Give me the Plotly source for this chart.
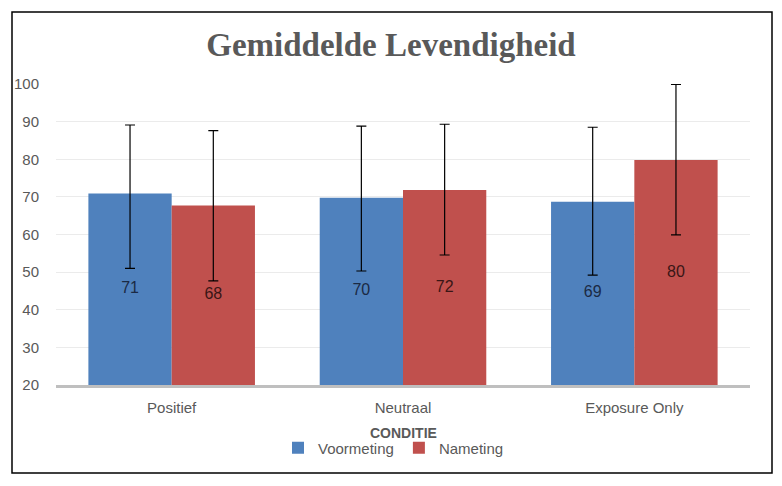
import plotly.graph_objects as go

categories = ["Positief", "Neutraal", "Exposure Only"]
voormeting = [70.9, 69.8, 68.7]
nameting = [67.7, 71.8, 79.8]
voormeting_err_plus = [18.2, 19.0, 19.8]
voormeting_err_minus = [19.9, 19.5, 19.5]
nameting_err_plus = [19.9, 17.5, 20.1]
nameting_err_minus = [20.0, 17.25, 19.9]
y_ticks = [20, 30, 40, 50, 60, 70, 80, 90, 100]
y_min, y_max = 20, 100

BLUE = "#4F81BD"
RED = "#C0504D"
FONT = "Liberation Sans"

fig = go.Figure()
series = [
    ("Voormeting", voormeting, voormeting_err_plus, voormeting_err_minus, BLUE, "#1B2A44"),
    ("Nameting", nameting, nameting_err_plus, nameting_err_minus, RED, "#3A1616"),
]
for name, vals, ep, em, col, tcol in series:
    fig.add_trace(go.Bar(
        name=name, x=categories, y=vals, marker=dict(color=col, line=dict(width=0)),
        offsetgroup=name,
        error_y=dict(type="data", array=ep, arrayminus=em, symmetric=False, visible=True,
                     color="black", thickness=1.2, width=5),
    ))
# value labels centred in the visible part of each bar
for name, vals, ep, em, col, tcol in series:
    fig.add_trace(go.Scatter(
        x=categories, y=[(v + y_min) / 2 for v in vals], mode="text",
        text=[f"{v:.0f}" for v in vals], offsetgroup=name, showlegend=False, hoverinfo="skip",
        textfont=dict(family=FONT, size=16, color=tcol),
    ))

fig.update_layout(
    width=782, height=486,
    margin=dict(l=56, r=32, t=84, b=101),
    paper_bgcolor="white", plot_bgcolor="white",
    barmode="group", bargap=0.28, bargroupgap=0,
    scattermode="group", scattergap=0.28,
    showlegend=True,
    legend=dict(orientation="h", x=(278 - 56) / 694, xanchor="left", y=-0.209, yanchor="middle",
                font=dict(family=FONT, size=15, color="#595959"), itemwidth=30,
                traceorder="normal"),
    title=dict(text="<b>Gemiddelde Levendigheid</b>", x=0.5, xanchor="center",
               y=1 - 44 / 486, yanchor="middle",
               font=dict(family="Liberation Serif", size=33, color="#595959")),
)
fig.update_yaxes(range=[y_min, y_max], tickvals=y_ticks, showgrid=True, gridcolor="#EBEBEB",
                 gridwidth=1, zeroline=False, showline=False, ticks="",
                 tickfont=dict(family=FONT, size=15, color="#595959"), ticklabelstandoff=16)
fig.update_xaxes(showgrid=False, showline=True, linecolor="#BFBFBF", linewidth=3,
                 ticks="", tickfont=dict(family=FONT, size=15, color="#595959"),
                 ticklabelstandoff=7)
fig.add_annotation(text="<b>CONDITIE</b>", xref="paper", yref="paper", x=0.5, y=(385 - 433) / 301,
                   xanchor="center", yanchor="middle", showarrow=False,
                   font=dict(family=FONT, size=14, color="#595959"))
fig.add_shape(type="rect", xref="paper", yref="paper",
              x0=(12 - 56) / 694, x1=(772 - 56) / 694, y0=(385 - 473) / 301, y1=(385 - 12) / 301,
              line=dict(color="black", width=1.5), layer="above")
fig.write_html("out.html", config={"displayModeBar": False},
               post_script="document.body.style.margin='0';")
